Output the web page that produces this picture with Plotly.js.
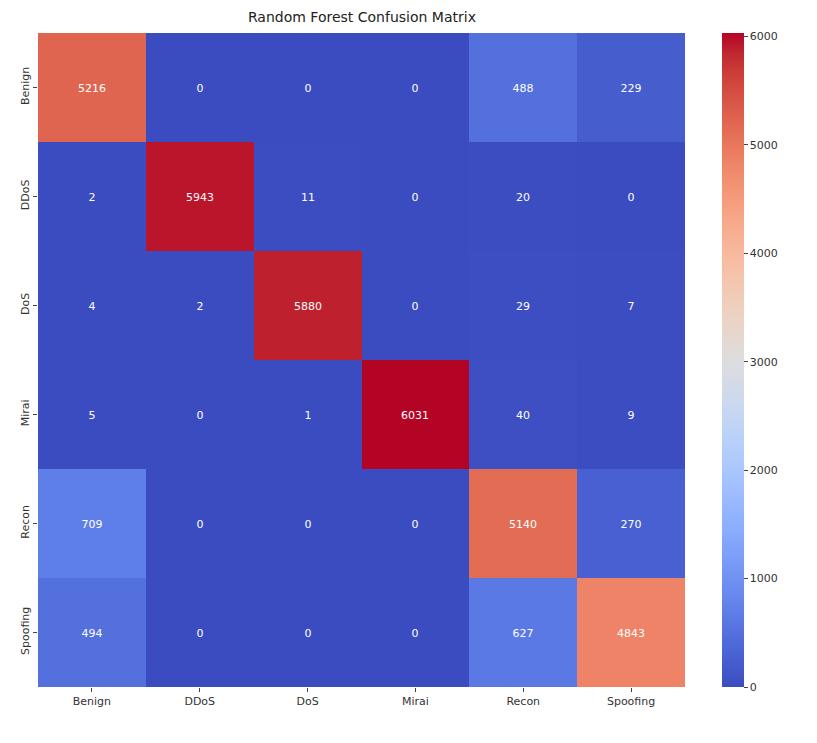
<!DOCTYPE html>
<html>
<head>
<meta charset="utf-8">
<script src="https://cdn.plot.ly/plotly-3.0.1.min.js"></script>
<style>html,body{margin:0;padding:0;background:#fff;}#chart{width:817px;height:743px;}</style>
</head>
<body>
<div id="chart"></div>
<script>
const categories = ["Benign", "DDoS", "DoS", "Mirai", "Recon", "Spoofing"];
const rowBenign   = [5216, 0, 0, 0, 488, 229];
const rowDDoS     = [2, 5943, 11, 0, 20, 0];
const rowDoS      = [4, 2, 5880, 0, 29, 7];
const rowMirai    = [5, 0, 1, 6031, 40, 9];
const rowRecon    = [709, 0, 0, 0, 5140, 270];
const rowSpoofing = [494, 0, 0, 0, 627, 4843];
const colorbarTicks = [0, 1000, 2000, 3000, 4000, 5000, 6000];

const z = [rowBenign, rowDDoS, rowDoS, rowMirai, rowRecon, rowSpoofing];

const cw = [
 [59,76,192],[68,90,204],[77,104,215],[87,117,225],[98,130,234],[108,142,241],[119,154,247],[130,165,251],
 [141,176,254],[152,185,255],[163,194,255],[174,201,253],[184,208,249],[194,213,244],[204,217,238],[213,219,230],
 [221,221,221],[229,216,209],[236,211,197],[241,204,185],[245,196,173],[247,187,160],[247,177,148],[247,166,135],
 [244,154,123],[241,141,111],[236,127,99],[229,112,88],[222,96,77],[213,80,66],[203,62,56],[192,40,47],[180,4,38]
];
const colorscale = cw.map((c,i)=>[i/(cw.length-1), `rgb(${c[0]},${c[1]},${c[2]})`]);
const allVals = z.flat();
const zmax = Math.max(...allVals), zmin = Math.min(...allVals);

const font = "DejaVu Sans, Verdana, sans-serif";
const trace = {
  type: "heatmap",
  z: z, x: categories, y: categories,
  zmin: zmin, zmax: zmax,
  colorscale: colorscale,
  texttemplate: "%{z}",
  textfont: {family: font, size: 11, color: "#ffffff"},
  xgap: 0, ygap: 0,
  hoverongaps: false,
  colorbar: {
    x: 1.057, xanchor: "left", xref: "paper", xpad: 0, ypad: 0,
    y: 0.5, yanchor: "middle", len: 1, lenmode: "fraction",
    thickness: 22, thicknessmode: "pixels",
    outlinewidth: 0,
    tickvals: colorbarTicks,
    ticks: "outside", ticklen: 4, tickwidth: 1, tickcolor: "#444",
    tickfont: {family: font, size: 11, color: "#333"}
  }
};

const layout = {
  width: 817, height: 743,
  paper_bgcolor: "#ffffff", plot_bgcolor: "#ffffff",
  margin: {l: 38, r: 132, t: 33, b: 56},
  title: {text: "Random Forest Confusion Matrix", font: {family: font, size: 14, color: "#222"},
          x: 0.443, xanchor: "center", y: 0.977, yanchor: "middle"},
  xaxis: {type: "category", showgrid: false, zeroline: false, showline: false,
          ticks: "outside", ticklen: 4, tickcolor: "#444",
          tickfont: {family: font, size: 11, color: "#333"}},
  yaxis: {type: "category", autorange: "reversed", showgrid: false, zeroline: false, showline: false,
          ticks: "outside", ticklen: 4, tickcolor: "#444", tickangle: -90,
          tickfont: {family: font, size: 11, color: "#333"}}
};

Plotly.newPlot("chart", [trace], layout, {displayModeBar: false, staticPlot: true});
</script>
</body>
</html>
